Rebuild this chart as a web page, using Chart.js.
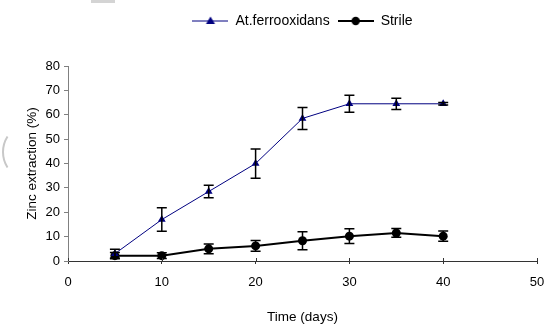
<!DOCTYPE html>
<html>
<head>
<meta charset="utf-8">
<script src="https://cdn.jsdelivr.net/npm/chart.js@4.4.1/dist/chart.umd.min.js"></script>
<style>
  html, body { margin: 0; padding: 0; background: #fff; }
  #wrap { width: 547px; height: 327px; }
</style>
</head>
<body>
<div id="wrap"><canvas id="myChart" width="547" height="327"></canvas></div>
<script>
// data
let days = [5, 10, 15, 20, 25, 30, 35, 40];
let bacteria = [3, 17, 28.5, 40, 58.5, 64.5, 64.5, 64.5];
let bacteriaErr = [1.8, 4.8, 2.6, 6, 4.5, 3.5, 2.3, 0.5];
let sterile = [2.2, 2.2, 5, 6.2, 8.3, 10.2, 11.5, 10.2];
let sterileErr = [1.3, 1.2, 2, 2.2, 3.7, 3, 1.8, 2.1];
let seriesNames = ['At.ferrooxidans', 'Strile'];
let xTitle = 'Time (days)';
let yTitle = 'Zinc extraction (%)';

const FONT = "'Liberation Sans', Arial, sans-serif";
const BLUE = '#000080';

// small line+marker pictures for the legend
function legendSample(color, lineWidth, shape) {
    let c = document.createElement('canvas');
    c.width = 36; c.height = 12;
    let g = c.getContext('2d');
    g.strokeStyle = color; g.fillStyle = color; g.lineWidth = lineWidth;
    g.beginPath(); g.moveTo(0, 6); g.lineTo(36, 6); g.stroke();
    g.beginPath();
    if (shape === 'triangle') {
        g.moveTo(18, 1.5); g.lineTo(22.5, 9); g.lineTo(13.5, 9); g.closePath();
    } else {
        g.arc(18, 6, 4.2, 0, Math.PI * 2);
    }
    g.fill();
    return c;
}
let samples = [legendSample(BLUE, 1, 'triangle'), legendSample('#000', 2, 'circle')];

function points(ys) {
    return days.map((d, i) => ({ x: d, y: ys[i] }));
}

// vertical error bars drawn through the chart scales
const errorBars = {
    id: 'errorBars',
    afterDatasetsDraw(chart) {
        const ctx = chart.ctx;
        const xs = chart.scales.x, ys = chart.scales.y;
        ctx.save();
        ctx.strokeStyle = '#000';
        ctx.lineWidth = 1.5;
        chart.data.datasets.forEach(ds => {
            ds.data.forEach((p, i) => {
                let e = ds.errors[i];
                let px = xs.getPixelForValue(p.x);
                let top = ys.getPixelForValue(p.y + e);
                let bot = ys.getPixelForValue(p.y - e);
                ctx.beginPath();
                ctx.moveTo(px, top); ctx.lineTo(px, bot);
                ctx.moveTo(px - 5, top); ctx.lineTo(px + 5, top);
                ctx.moveTo(px - 5, bot); ctx.lineTo(px + 5, bot);
                ctx.stroke();
            });
        });
        ctx.restore();
    }
};

// x ticks cross the axis, plus the faint marks at the picture's edges
const extras = {
    id: 'extras',
    beforeInit(chart) {
        const fit = chart.legend.fit;
        chart.legend.fit = function () { fit.call(this); this.height = 60; };
    },
    afterLayout(chart) {
        // centre the legend over the plot area
        chart.legend.left = chart.chartArea.left;
        chart.legend.right = chart.chartArea.right;
    },
    afterDraw(chart) {
        const ctx = chart.ctx;
        const xs = chart.scales.x;
        ctx.save();
        ctx.strokeStyle = '#333';
        ctx.lineWidth = 1;
        xs.ticks.forEach(t => {
            let px = Math.round(xs.getPixelForValue(t.value)) + 0.5;
            ctx.beginPath();
            ctx.moveTo(px, chart.chartArea.bottom);
            ctx.lineTo(px, chart.chartArea.bottom - 3);
            ctx.stroke();
        });
        ctx.fillStyle = '#d4d4d4';
        ctx.fillRect(91, 0, 24, 3);
        ctx.strokeStyle = '#c8c8c8';
        ctx.lineWidth = 2;
        ctx.beginPath();
        ctx.arc(32, 152, 29, Math.PI * 0.82, Math.PI * 1.18);
        ctx.stroke();
        ctx.restore();
    }
};

new Chart(document.getElementById('myChart'), {
    type: 'line',
    data: {
        datasets: [{
            label: seriesNames[0],
            data: points(bacteria),
            errors: bacteriaErr,
            borderColor: BLUE,
            backgroundColor: BLUE,
            borderWidth: 1,
            pointStyle: 'triangle',
            pointRadius: 4.5,
            pointBorderWidth: 0,
            pointHoverRadius: 4.5
        }, {
            label: seriesNames[1],
            data: points(sterile),
            errors: sterileErr,
            borderColor: '#000',
            backgroundColor: '#000',
            borderWidth: 2,
            pointStyle: 'circle',
            pointRadius: 4.5,
            pointBorderWidth: 0,
            pointHoverRadius: 4.5
        }]
    },
    options: {
        responsive: false,
        animation: false,
        layout: { padding: { top: 6, right: 0, left: 0, bottom: 0 } },
        plugins: {
            tooltip: { enabled: false },
            legend: {
                position: 'top',
                labels: {
                    font: { family: FONT, size: 14 },
                    color: '#000',
                    padding: 8,
                    usePointStyle: true,
                    pointStyleWidth: 36,
                    generateLabels(chart) {
                        return chart.data.datasets.map((ds, i) => ({
                            text: ds.label,
                            pointStyle: samples[i],
                            fillStyle: ds.borderColor,
                            strokeStyle: ds.borderColor,
                            lineWidth: 0,
                            hidden: false,
                            datasetIndex: i
                        }));
                    }
                }
            }
        },
        scales: {
            x: {
                type: 'linear',
                min: 0,
                max: 50,
                ticks: { stepSize: 10, color: '#000', padding: 11, font: { family: FONT, size: 13 } },
                grid: { drawOnChartArea: false, tickLength: 3, color: '#333' },
                border: { color: '#333', width: 1 },
                title: { display: true, text: xTitle, color: '#000', font: { family: FONT, size: 13.5 }, padding: { top: 0, bottom: 2 } },
                afterFit(scale) { scale.height = 66; scale.paddingRight = 10; }
            },
            y: {
                min: 0,
                max: 80,
                ticks: { stepSize: 10, color: '#000', padding: 4, font: { family: FONT, size: 13 } },
                grid: { drawOnChartArea: false, tickLength: 4, color: '#808080' },
                border: { color: '#808080', width: 1 },
                title: { display: true, text: yTitle, color: '#000', font: { family: FONT, size: 13.5 }, padding: { top: 24, bottom: 0 } },
                afterFit(scale) { scale.width = 68; }
            }
        }
    },
    plugins: [errorBars, extras]
});
</script>
</body>
</html>
